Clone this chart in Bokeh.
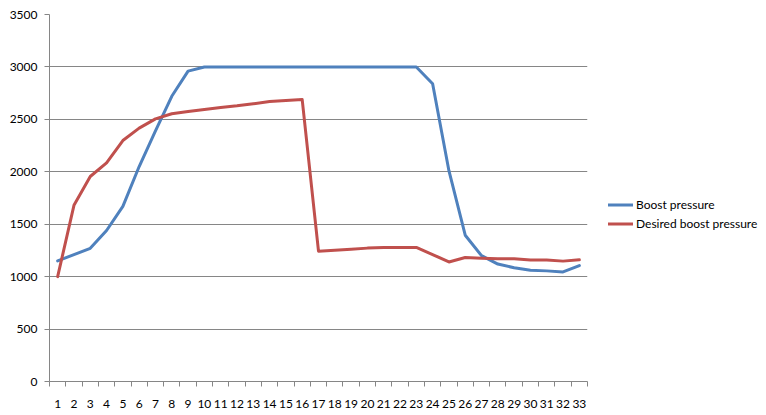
from bokeh.plotting import figure
from bokeh.models import Range1d, FixedTicker, Legend, LegendItem
from bokeh.embed import file_html
from bokeh.resources import INLINE

samples = list(range(1, 34))
boost_pressure = [1150, 1210, 1270, 1440, 1670, 2050, 2390, 2720, 2960, 3000,
                  3000, 3000, 3000, 3000, 3000, 3000, 3000, 3000, 3000, 3000,
                  3000, 3000, 3000, 2840, 2010, 1395, 1200, 1120, 1085, 1060,
                  1055, 1045, 1105]
desired_boost_pressure = [1000, 1680, 1955, 2085, 2298, 2416, 2505, 2553, 2575, 2594,
                          2614, 2629, 2648, 2670, 2680, 2689, 1243, 1252, 1261, 1272,
                          1277, 1278, 1278, 1211, 1140, 1182, 1176, 1170, 1170, 1158,
                          1158, 1148, 1160]
y_ticks = [0, 500, 1000, 1500, 2000, 2500, 3000, 3500]

GRAY = "#868686"
FONT = "Lato"

p = figure(frame_width=538, frame_height=367, output_backend="svg", toolbar_location=None,
           x_range=Range1d(0.5, 33.5), y_range=Range1d(0, 3500),
           min_border_left=49, min_border_right=0, min_border_top=14,
           min_border_bottom=34)
p.outline_line_color = None
p.background_fill_color = "white"
p.border_fill_color = "white"

b = p.line(samples, boost_pressure, line_color="#4F81BD", line_width=3,
           line_join="round", line_cap="round")
r = p.line(samples, desired_boost_pressure, line_color="#C0504D", line_width=3,
           line_join="round", line_cap="round")

p.xgrid.grid_line_color = None
p.ygrid.grid_line_color = GRAY
p.ygrid.ticker = FixedTicker(ticks=y_ticks)

xa = p.xaxis[0]
xa.ticker = FixedTicker(ticks=samples, minor_ticks=[i + 0.5 for i in range(0, 34)])
xa.major_tick_line_color = None
xa.minor_tick_line_color = GRAY
xa.minor_tick_in = 0
xa.minor_tick_out = 5
xa.axis_line_color = GRAY
xa.major_label_standoff = 12
xa.major_label_text_font = FONT
xa.major_label_text_font_size = "12px"
xa.major_label_text_color = "black"

ya = p.yaxis[0]
ya.ticker = FixedTicker(ticks=y_ticks)
ya.major_tick_line_color = GRAY
ya.major_tick_in = 0
ya.major_tick_out = 5
ya.minor_tick_line_color = None
ya.axis_line_color = GRAY
ya.major_label_standoff = 7
ya.major_label_text_font = FONT
ya.major_label_text_font_size = "12px"
ya.major_label_text_color = "black"

legend = Legend(items=[LegendItem(label="Boost pressure", renderers=[b]),
                       LegendItem(label="Desired boost pressure", renderers=[r])],
                location=(21, 150), orientation="vertical",
                border_line_color=None, background_fill_alpha=0,
                padding=0, margin=0, spacing=4, glyph_width=25, glyph_height=15,
                label_height=15, label_standoff=3,
                label_text_font=FONT, label_text_font_size="12px",
                label_text_color="black")
p.add_layout(legend, "right")

open("out.html", "w").write(file_html(p, INLINE))
